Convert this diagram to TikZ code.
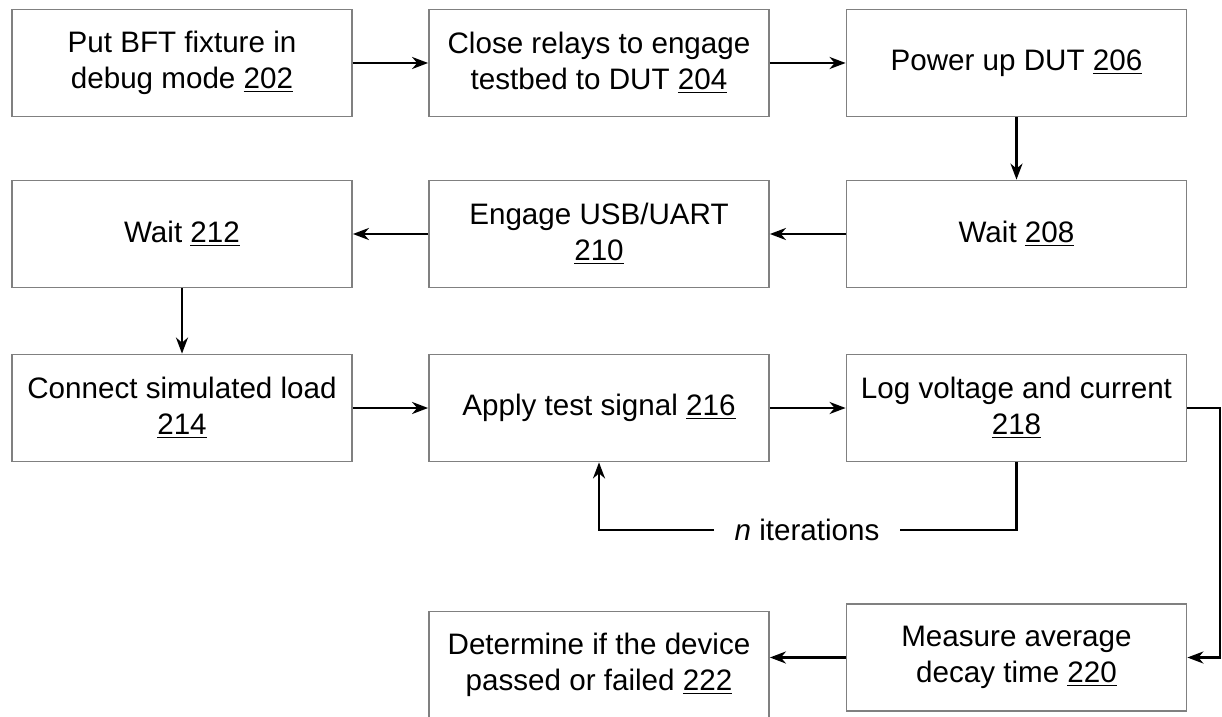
\documentclass[tikz,border=0pt]{standalone}
\usepackage{fontspec}
\setmainfont{Liberation Sans}
\usetikzlibrary{arrows.meta,positioning,calc}

\begin{document}
\begin{tikzpicture}[x=0.5pt,y=-0.5pt,
    stage/.style={draw=black!50, line width=0.9pt, minimum width=170pt,
      minimum height=53.5pt, inner sep=0pt, align=center,
      font=\fontsize{14.8}{18}\selectfont},
    flow/.style={-{Stealth[length=8pt,width=6pt,inset=2.5pt]}, line width=1.2pt}]
  \def\colA{182}
  \def\colB{599}
  \def\colC{1016.5}

  \useasboundingbox (0,0) rectangle (1222,717);

  % STAGES
  \node[stage] (s202) at (\colA,63) {Put BFT fixture in\\debug mode \underline{202}};
  \node[stage] (s204) at (\colB,63) {Close relays to engage\\testbed to DUT \underline{204}};
  \node[stage] (s206) at (\colC,63) {Power up DUT \underline{206}};
  \node[stage] (s208) at (\colC,234) {Wait \underline{208}};
  \node[stage] (s210) at (\colB,234) {Engage USB/UART\\\underline{210}};
  \node[stage] (s212) at (\colA,234) {Wait \underline{212}};
  \node[stage] (s214) at (\colA,408) {Connect simulated load\\\underline{214}};
  \node[stage] (s216) at (\colB,408) {Apply test signal \underline{216}};
  \node[stage] (s218) at (\colC,408) {Log voltage and current\\\underline{218}};
  \node[stage] (s220) at (\colC,657.5) {Measure average\\decay time \underline{220}};
  \node[stage] (s222) at (\colB,665) {Determine if the device\\passed or failed \underline{222}};

  \node[font=\fontsize{14.8}{18}\selectfont, inner xsep=10pt] (iter) at (807,530) {\textit{n} iterations};
  \coordinate (edge) at (1220,408);

  % FLOW
  \draw[flow] (s202) -- (s204);
  \draw[flow] (s204) -- (s206);
  \draw[flow] (s206) -- (s208);
  \draw[flow] (s208) -- (s210);
  \draw[flow] (s210) -- (s212);
  \draw[flow] (s212) -- (s214);
  \draw[flow] (s214) -- (s216);
  \draw[flow] (s216) -- (s218);
  \draw[flow] (s218.east) -- (edge) |- (s220.east);
  \draw[flow] (s220.west) -- (s220.west -| s222.east);
  \draw[line width=1.2pt] (s218.south) |- (iter.east);
  \draw[flow] (iter.west) -| (s216.south);
\end{tikzpicture}
\end{document}
